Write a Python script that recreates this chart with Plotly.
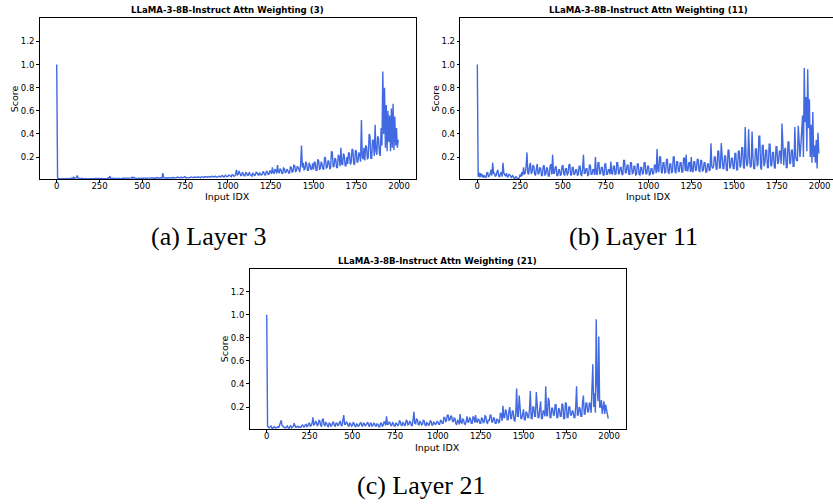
import plotly.graph_objects as go

W, H = 833, 504

# Token positions (every 5th input index)
input_idx = list(range(0, 2000, 5))

# Attention weighting scores per layer
layer3_scores = [
    1.0, 0.020, 0.015, 0.012, 0.014, 0.010, 0.012, 0.015, 0.011, 0.013, 0.010, 0.014, 0.012, 0.011, 0.013, 0.012, 0.016, 0.013, 0.020, 0.014,
    0.025, 0.015, 0.018, 0.022, 0.040, 0.016, 0.015, 0.012, 0.012, 0.016, 0.014, 0.011, 0.011, 0.015, 0.013, 0.012, 0.015, 0.011, 0.012, 0.014,
    0.011, 0.013, 0.013, 0.010, 0.012, 0.014, 0.014, 0.011, 0.010, 0.013, 0.015, 0.012, 0.013, 0.011, 0.012, 0.014, 0.016, 0.012, 0.014, 0.013,
    0.020, 0.014, 0.035, 0.015, 0.016, 0.013, 0.014, 0.016, 0.013, 0.012, 0.015, 0.013, 0.012, 0.015, 0.014, 0.012, 0.013, 0.016, 0.016, 0.013,
    0.014, 0.016, 0.013, 0.015, 0.017, 0.014, 0.015, 0.018, 0.025, 0.016, 0.024, 0.017, 0.016, 0.014, 0.014, 0.017, 0.018, 0.015, 0.015, 0.017,
    0.013, 0.017, 0.016, 0.014, 0.014, 0.018, 0.018, 0.015, 0.015, 0.019, 0.020, 0.016, 0.017, 0.021, 0.015, 0.018, 0.016, 0.022, 0.019, 0.017,
    0.017, 0.021, 0.022, 0.018, 0.060, 0.020, 0.018, 0.022, 0.020, 0.017, 0.016, 0.021, 0.021, 0.018, 0.018, 0.023, 0.023, 0.019, 0.019, 0.024,
    0.020, 0.026, 0.024, 0.019, 0.019, 0.025, 0.026, 0.020, 0.022, 0.028, 0.030, 0.021, 0.021, 0.027, 0.025, 0.022, 0.022, 0.028, 0.024, 0.021,
    0.021, 0.027, 0.026, 0.022, 0.023, 0.029, 0.028, 0.022, 0.022, 0.030, 0.027, 0.023, 0.024, 0.031, 0.030, 0.024, 0.025, 0.032, 0.028, 0.024,
    0.026, 0.034, 0.032, 0.025, 0.027, 0.035, 0.030, 0.026, 0.028, 0.036, 0.035, 0.027, 0.029, 0.040, 0.038, 0.028, 0.031, 0.042, 0.036, 0.030,
    0.033, 0.045, 0.040, 0.030, 0.030, 0.048, 0.045, 0.034, 0.036, 0.050, 0.090, 0.045, 0.050, 0.080, 0.065, 0.040, 0.040, 0.070, 0.055, 0.038,
    0.038, 0.065, 0.060, 0.040, 0.042, 0.070, 0.050, 0.036, 0.035, 0.062, 0.055, 0.040, 0.045, 0.072, 0.062, 0.042, 0.040, 0.066, 0.058, 0.044,
    0.048, 0.075, 0.065, 0.045, 0.044, 0.080, 0.070, 0.050, 0.052, 0.085, 0.075, 0.055, 0.110, 0.065, 0.060, 0.095, 0.085, 0.058, 0.130, 0.070,
    0.065, 0.100, 0.090, 0.060, 0.058, 0.105, 0.100, 0.065, 0.070, 0.095, 0.085, 0.062, 0.062, 0.115, 0.110, 0.070, 0.075, 0.130, 0.125, 0.075,
    0.080, 0.120, 0.110, 0.075, 0.070, 0.140, 0.300, 0.110, 0.150, 0.090, 0.095, 0.160, 0.140, 0.085, 0.085, 0.150, 0.130, 0.090, 0.100, 0.145,
    0.090, 0.160, 0.150, 0.085, 0.085, 0.180, 0.170, 0.095, 0.100, 0.160, 0.140, 0.095, 0.095, 0.200, 0.190, 0.105, 0.110, 0.170, 0.160, 0.100,
    0.105, 0.250, 0.240, 0.115, 0.120, 0.190, 0.180, 0.110, 0.110, 0.220, 0.200, 0.120, 0.280, 0.140, 0.130, 0.230, 0.210, 0.125, 0.125, 0.200,
    0.140, 0.240, 0.230, 0.135, 0.150, 0.270, 0.260, 0.140, 0.135, 0.260, 0.250, 0.150, 0.165, 0.240, 0.220, 0.160, 0.520, 0.200, 0.180, 0.280,
    0.170, 0.300, 0.290, 0.180, 0.200, 0.400, 0.380, 0.190, 0.190, 0.350, 0.340, 0.210, 0.480, 0.250, 0.220, 0.380, 0.360, 0.230, 0.210, 0.450,
    0.300, 0.940, 0.400, 0.800, 0.280, 0.650, 0.250, 0.600, 0.330, 0.560, 0.250, 0.620, 0.280, 0.660, 0.260, 0.550, 0.300, 0.450, 0.280, 0.350,
]

layer11_scores = [
    1.0, 0.030, 0.065, 0.025, 0.060, 0.030, 0.050, 0.020, 0.040, 0.025, 0.020, 0.060, 0.070, 0.030, 0.035, 0.055, 0.090, 0.040, 0.150, 0.060,
    0.060, 0.035, 0.040, 0.070, 0.090, 0.035, 0.030, 0.055, 0.070, 0.030, 0.150, 0.060, 0.050, 0.035, 0.060, 0.030, 0.030, 0.050, 0.045, 0.025,
    0.020, 0.040, 0.035, 0.015, 0.015, 0.030, 0.025, 0.010, 0.010, 0.020, 0.050, 0.030, 0.070, 0.040, 0.110, 0.050, 0.060, 0.120, 0.240, 0.060,
    0.050, 0.120, 0.150, 0.055, 0.070, 0.130, 0.120, 0.050, 0.045, 0.100, 0.140, 0.050, 0.060, 0.110, 0.100, 0.040, 0.040, 0.120, 0.130, 0.045,
    0.050, 0.110, 0.100, 0.035, 0.035, 0.120, 0.140, 0.050, 0.220, 0.060, 0.060, 0.110, 0.120, 0.040, 0.040, 0.090, 0.090, 0.040, 0.050, 0.120,
    0.130, 0.050, 0.045, 0.100, 0.100, 0.040, 0.060, 0.130, 0.140, 0.050, 0.040, 0.110, 0.110, 0.045, 0.055, 0.090, 0.090, 0.040, 0.050, 0.120,
    0.120, 0.045, 0.040, 0.100, 0.220, 0.060, 0.060, 0.100, 0.100, 0.040, 0.045, 0.130, 0.130, 0.050, 0.050, 0.090, 0.090, 0.045, 0.200, 0.060,
    0.045, 0.150, 0.150, 0.050, 0.060, 0.110, 0.110, 0.045, 0.040, 0.140, 0.140, 0.050, 0.050, 0.090, 0.090, 0.050, 0.160, 0.060, 0.050, 0.120,
    0.120, 0.050, 0.055, 0.150, 0.150, 0.055, 0.060, 0.110, 0.110, 0.050, 0.045, 0.170, 0.170, 0.060, 0.065, 0.130, 0.130, 0.050, 0.050, 0.150,
    0.150, 0.055, 0.060, 0.120, 0.120, 0.045, 0.050, 0.140, 0.140, 0.050, 0.045, 0.110, 0.110, 0.050, 0.060, 0.150, 0.150, 0.055, 0.055, 0.120,
    0.120, 0.045, 0.050, 0.100, 0.100, 0.050, 0.060, 0.130, 0.130, 0.060, 0.270, 0.080, 0.070, 0.200, 0.200, 0.070, 0.060, 0.150, 0.150, 0.065,
    0.070, 0.180, 0.180, 0.065, 0.060, 0.140, 0.140, 0.060, 0.075, 0.200, 0.200, 0.070, 0.065, 0.160, 0.160, 0.070, 0.080, 0.150, 0.150, 0.070,
    0.070, 0.190, 0.190, 0.080, 0.220, 0.080, 0.080, 0.150, 0.150, 0.070, 0.200, 0.080, 0.070, 0.160, 0.160, 0.080, 0.090, 0.180, 0.180, 0.080,
    0.075, 0.170, 0.170, 0.080, 0.085, 0.150, 0.150, 0.070, 0.070, 0.140, 0.140, 0.080, 0.090, 0.320, 0.120, 0.100, 0.120, 0.200, 0.200, 0.100,
    0.090, 0.250, 0.250, 0.100, 0.110, 0.320, 0.150, 0.100, 0.100, 0.210, 0.210, 0.090, 0.080, 0.260, 0.260, 0.100, 0.120, 0.190, 0.190, 0.100,
    0.100, 0.230, 0.230, 0.090, 0.090, 0.250, 0.250, 0.110, 0.130, 0.280, 0.280, 0.110, 0.100, 0.460, 0.200, 0.120, 0.150, 0.440, 0.200, 0.110,
    0.120, 0.420, 0.200, 0.100, 0.100, 0.270, 0.270, 0.120, 0.140, 0.380, 0.380, 0.110, 0.090, 0.300, 0.300, 0.120, 0.150, 0.260, 0.260, 0.110,
    0.110, 0.310, 0.310, 0.120, 0.130, 0.240, 0.240, 0.110, 0.100, 0.290, 0.290, 0.140, 0.160, 0.250, 0.250, 0.140, 0.490, 0.180, 0.130, 0.260,
    0.280, 0.110, 0.110, 0.330, 0.330, 0.140, 0.150, 0.260, 0.260, 0.120, 0.120, 0.460, 0.200, 0.170, 0.170, 0.470, 0.250, 0.200, 0.300, 0.450,
    0.560, 0.200, 0.970, 0.500, 0.720, 0.250, 0.960, 0.450, 0.700, 0.200, 0.480, 0.150, 0.590, 0.200, 0.300, 0.150, 0.350, 0.100, 0.410, 0.230,
]

layer21_scores = [
    1.0, 0.040, 0.025, 0.020, 0.030, 0.035, 0.018, 0.015, 0.025, 0.030, 0.020, 0.018, 0.025, 0.030, 0.020, 0.045, 0.060, 0.085, 0.040, 0.030,
    0.030, 0.020, 0.018, 0.025, 0.035, 0.020, 0.015, 0.030, 0.040, 0.020, 0.025, 0.030, 0.060, 0.025, 0.020, 0.030, 0.035, 0.025, 0.030, 0.025,
    0.025, 0.040, 0.045, 0.030, 0.030, 0.045, 0.050, 0.030, 0.035, 0.055, 0.060, 0.035, 0.040, 0.060, 0.110, 0.045, 0.050, 0.075, 0.070, 0.040,
    0.045, 0.085, 0.080, 0.040, 0.035, 0.090, 0.100, 0.045, 0.040, 0.065, 0.060, 0.035, 0.030, 0.060, 0.055, 0.035, 0.040, 0.065, 0.070, 0.040,
    0.035, 0.060, 0.060, 0.040, 0.045, 0.070, 0.075, 0.040, 0.040, 0.085, 0.130, 0.050, 0.050, 0.070, 0.065, 0.040, 0.035, 0.060, 0.055, 0.035,
    0.040, 0.065, 0.060, 0.035, 0.030, 0.055, 0.050, 0.035, 0.040, 0.060, 0.065, 0.040, 0.035, 0.060, 0.055, 0.035, 0.045, 0.065, 0.070, 0.040,
    0.030, 0.060, 0.060, 0.035, 0.040, 0.060, 0.055, 0.035, 0.035, 0.055, 0.050, 0.030, 0.030, 0.060, 0.060, 0.035, 0.040, 0.070, 0.070, 0.040,
    0.120, 0.050, 0.050, 0.070, 0.065, 0.040, 0.040, 0.065, 0.060, 0.035, 0.035, 0.060, 0.055, 0.040, 0.045, 0.080, 0.075, 0.045, 0.040, 0.065,
    0.060, 0.040, 0.045, 0.085, 0.080, 0.045, 0.050, 0.075, 0.070, 0.040, 0.040, 0.090, 0.160, 0.060, 0.055, 0.095, 0.090, 0.050, 0.045, 0.075,
    0.070, 0.045, 0.050, 0.085, 0.080, 0.045, 0.040, 0.065, 0.060, 0.040, 0.050, 0.080, 0.075, 0.045, 0.045, 0.070, 0.065, 0.050, 0.055, 0.075,
    0.070, 0.050, 0.050, 0.085, 0.080, 0.060, 0.060, 0.110, 0.110, 0.075, 0.080, 0.130, 0.130, 0.085, 0.090, 0.120, 0.120, 0.080, 0.070, 0.105,
    0.100, 0.055, 0.050, 0.085, 0.080, 0.050, 0.140, 0.065, 0.060, 0.095, 0.090, 0.055, 0.050, 0.075, 0.120, 0.070, 0.070, 0.105, 0.100, 0.060,
    0.060, 0.115, 0.110, 0.065, 0.130, 0.075, 0.070, 0.095, 0.090, 0.060, 0.060, 0.105, 0.100, 0.065, 0.070, 0.125, 0.120, 0.065, 0.060, 0.090,
    0.080, 0.130, 0.130, 0.070, 0.070, 0.110, 0.100, 0.060, 0.060, 0.095, 0.090, 0.065, 0.070, 0.150, 0.140, 0.080, 0.210, 0.110, 0.110, 0.180,
    0.160, 0.090, 0.090, 0.170, 0.200, 0.100, 0.100, 0.170, 0.160, 0.085, 0.080, 0.150, 0.360, 0.120, 0.120, 0.300, 0.200, 0.100, 0.100, 0.170,
    0.180, 0.090, 0.090, 0.160, 0.150, 0.110, 0.110, 0.180, 0.340, 0.100, 0.100, 0.200, 0.200, 0.120, 0.120, 0.330, 0.220, 0.110, 0.110, 0.200,
    0.250, 0.100, 0.100, 0.170, 0.160, 0.120, 0.380, 0.130, 0.120, 0.280, 0.250, 0.110, 0.110, 0.190, 0.190, 0.130, 0.130, 0.220, 0.220, 0.110,
    0.110, 0.190, 0.180, 0.120, 0.120, 0.230, 0.220, 0.100, 0.100, 0.240, 0.230, 0.110, 0.110, 0.200, 0.200, 0.130, 0.130, 0.170, 0.160, 0.110,
    0.110, 0.200, 0.380, 0.130, 0.130, 0.200, 0.190, 0.120, 0.120, 0.240, 0.300, 0.140, 0.140, 0.240, 0.230, 0.160, 0.160, 0.240, 0.220, 0.150,
    0.310, 0.570, 0.200, 0.320, 0.150, 0.960, 0.400, 0.250, 0.810, 0.200, 0.200, 0.260, 0.140, 0.220, 0.250, 0.140, 0.220, 0.180, 0.120, 0.100,
]

layer_ids = [3, 11, 21]
captions = ["(a) Layer 3", "(b) Layer 11", "(c) Layer 21"]
x_ticks = [0, 250, 500, 750, 1000, 1250, 1500, 1750, 2000]
y_ticks = [0.2, 0.4, 0.6, 0.8, 1.0, 1.2]

LINE_COLOR = "#4169E1"
SANS = "DejaVu Sans"
SERIF = "Liberation Serif"

# Panel boxes in pixels: left, right, top, bottom, x-range end
panels = [
    dict(l=39.6, r=416.2, t=18.3, b=179.0, xmax=2100),
    dict(l=460.2, r=833.0, t=18.3, b=179.0, xmax=-100 + (833.0 - 460.2) / 0.17118),
    dict(l=249.6, r=626.2, t=268.5, b=429.0, xmax=2100),
]
full_width = 376.6
caption_pos = [(208, 236), (633, 236), (421, 485)]


def px(x):
    return x / W


def py(y):
    return 1 - y / H


fig = go.Figure()
series = [layer3_scores, layer11_scores, layer21_scores]
annotations = []

for i, (scores, p) in enumerate(zip(series, panels)):
    sfx = "" if i == 0 else str(i + 1)
    fig.add_trace(go.Scatter(
        x=input_idx[:len(scores)], y=scores, mode="lines",
        line=dict(color=LINE_COLOR, width=1.4),
        xaxis="x" + sfx, yaxis="y" + sfx, showlegend=False,
        hoverinfo="skip",
    ))
    axis_common = dict(
        showline=True, linecolor="black", linewidth=1, mirror=True,
        ticks="outside", ticklen=2.5, tickwidth=0.8, tickcolor="black",
        showgrid=False, zeroline=False,
        tickfont=dict(family=SANS, size=8.5, color="black"),
    )
    fig.update_layout(**{
        "xaxis" + sfx: dict(
            domain=[px(p["l"]), px(p["r"])], range=[-100, p["xmax"]],
            anchor="y" + sfx, tickvals=x_ticks, ticklabelstandoff=-4,
            **axis_common,
        ),
        "yaxis" + sfx: dict(
            domain=[py(p["b"]), py(p["t"])], range=[0.01, 1.4],
            anchor="x" + sfx, tickvals=y_ticks,
            ticktext=[f"{v:.1f}" for v in y_ticks], **axis_common,
        ),
    })
    cx = p["l"] + full_width / 2
    annotations.append(dict(
        text=f"<b>LLaMA-3-8B-Instruct Attn Weighting ({layer_ids[i]})</b>",
        x=px(cx), y=py(p["t"] - 8), xref="paper", yref="paper",
        xanchor="center", yanchor="middle", showarrow=False,
        font=dict(family=SANS, size=8.6, color="black"),
    ))
    annotations.append(dict(
        text="Input IDX", x=px(cx), y=py(p["b"] + 18), xref="paper", yref="paper",
        xanchor="center", yanchor="middle", showarrow=False,
        font=dict(family=SANS, size=9.5, color="black"),
    ))
    annotations.append(dict(
        text="Score", x=px(p["l"] - 25), y=py((p["t"] + p["b"]) / 2),
        xref="paper", yref="paper", textangle=-90,
        xanchor="center", yanchor="middle", showarrow=False,
        font=dict(family=SANS, size=9.5, color="black"),
    ))
    cxp, cyp = caption_pos[i]
    annotations.append(dict(
        text=captions[i], x=px(cxp), y=py(cyp), xref="paper", yref="paper",
        xanchor="center", yanchor="middle", showarrow=False,
        font=dict(family=SERIF, size=26, color="black"),
    ))

fig.update_layout(
    width=W, height=H, margin=dict(l=0, r=0, t=0, b=0),
    paper_bgcolor="white", plot_bgcolor="white",
    annotations=annotations,
)

fig.write_html("out.html")
